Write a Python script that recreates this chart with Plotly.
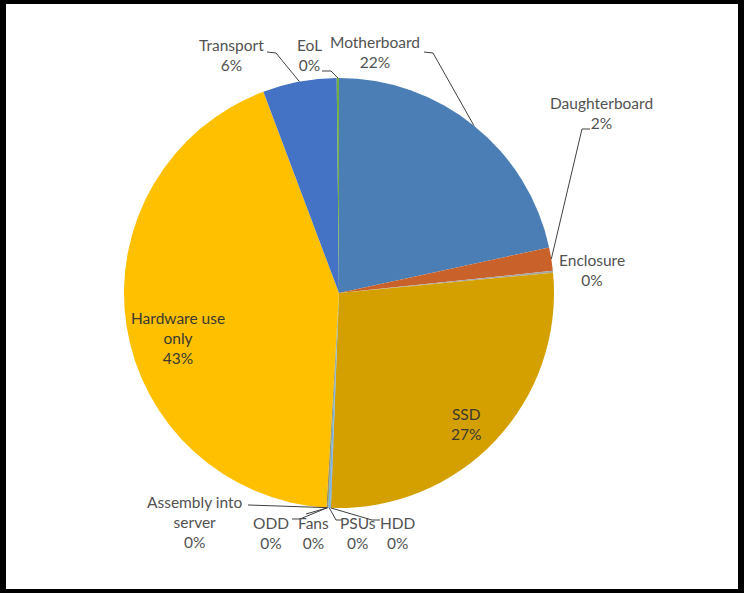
import plotly.graph_objects as go
import math

# ---- data ----
labels = ["Motherboard", "Daughterboard", "Enclosure", "SSD", "HDD", "PSUs", "Fans",
          "ODD", "Assembly into server", "Hardware use only", "Transport", "EoL"]
values = [21.6, 1.75, 0.15, 27.1, 0.05, 0.15, 0.05, 0.03, 0.05, 43.35, 5.55, 0.17]
colors = ["#4A7EB4", "#C8622A", "#A5A5A5", "#D4A000", "#5B9BD5", "#7CAFDD", "#70AD47",
          "#9E480E", "#636363", "#FFC000", "#4472C4", "#70AD47"]

# label text lines (display)
label_lines = {
    "Motherboard": ["Motherboard"],
    "Daughterboard": ["Daughterboard"],
    "Enclosure": ["Enclosure"],
    "SSD": ["SSD"],
    "HDD": ["HDD"],
    "PSUs": ["PSUs"],
    "Fans": ["Fans"],
    "ODD": ["ODD"],
    "Assembly into server": ["Assembly into", "server"],
    "Hardware use only": ["Hardware use", "only"],
    "Transport": ["Transport"],
    "EoL": ["EoL"],
}

W, H = 748, 593
cx, cy, r = 339, 293, 215

label_pos = {
    "Motherboard": (375, 52),
    "Daughterboard": (601, 113.5),
    "Enclosure": (592, 269.5),
    "SSD": (466, 424),
    "HDD": (398, 532.5),
    "PSUs": (358, 532.5),
    "Fans": (313, 532.5),
    "ODD": (271, 532.5),
    "Assembly into server": (195, 522),
    "Hardware use only": (178, 338),
    "Transport": (231, 54.5),
    "EoL": (309, 54.5),
}
inside = {"SSD", "Hardware use only"}

leader_pts = {
    "Transport": [(267, 52), (276, 53)],
    "EoL": [(322, 71), (331, 71)],
    "Motherboard": [(424, 52), (433, 53)],
    "Daughterboard": [(590, 129), (582, 129)],
    "Assembly into server": [(248, 505)],
    "ODD": [(292, 519), (300, 519)],
    "Fans": [(306, 514)],
    "PSUs": [(342, 520), (336, 520)],
    "HDD": [(380, 520), (372, 520)],
}


def px(x):
    return x / W


def py(y):
    return 1 - y / H


total = sum(values)
mid_angle = {}
cum = 0.0
for lab, v in zip(labels, values):
    mid_angle[lab] = (cum + v / 2) / total * 2 * math.pi
    cum += v

fig = go.Figure(go.Pie(
    labels=labels, values=values, sort=False, direction="clockwise", rotation=0,
    marker=dict(colors=colors, line=dict(width=0)),
    textinfo="none", hoverinfo="label+percent", showlegend=False,
    domain=dict(x=[px(cx - r), px(cx + r)], y=[py(cy + r), py(cy - r)]),
))

font_family = "Lato, 'Liberation Sans', sans-serif"
annotations = []
for lab, v in zip(labels, values):
    pct = f"{round(v / total * 100)}%"
    txt = "<br>".join(label_lines[lab] + [pct])
    x, y = label_pos[lab]
    annotations.append(dict(
        x=px(x), y=py(y), xref="paper", yref="paper", text=txt, showarrow=False,
        xanchor="center", yanchor="middle", align="center",
        font=dict(family=font_family, size=15.5,
                  color="#3A3A30" if lab in inside else "#525252"),
    ))

shapes = []
for lab, pts in leader_pts.items():
    a = mid_angle[lab]
    ex, ey = cx + r * math.sin(a), cy - r * math.cos(a)
    allp = pts + [(ex, ey)]
    path = "M " + " L ".join(f"{px(x):.5f},{py(y):.5f}" for x, y in allp)
    shapes.append(dict(type="path", path=path, xref="paper", yref="paper",
                       line=dict(color="#404040", width=1)))

# black frame
for x0, y0, x1, y1 in [(0, 0, 6, 593), (0, 0, 744, 4), (738, 0, 744, 593), (0, 589, 744, 593)]:
    shapes.append(dict(type="rect", xref="paper", yref="paper",
                       x0=px(x0), x1=px(x1), y0=py(y1), y1=py(y0),
                       fillcolor="black", line=dict(width=0), layer="above"))

fig.update_layout(
    width=W, height=H, margin=dict(l=0, r=0, t=0, b=0),
    paper_bgcolor="white", plot_bgcolor="white",
    annotations=annotations, shapes=shapes,
)

fig.write_html(
    "out.html",
    config={"displayModeBar": False},
    post_script="document.body.style.margin='0';document.body.style.overflow='hidden';",
)
